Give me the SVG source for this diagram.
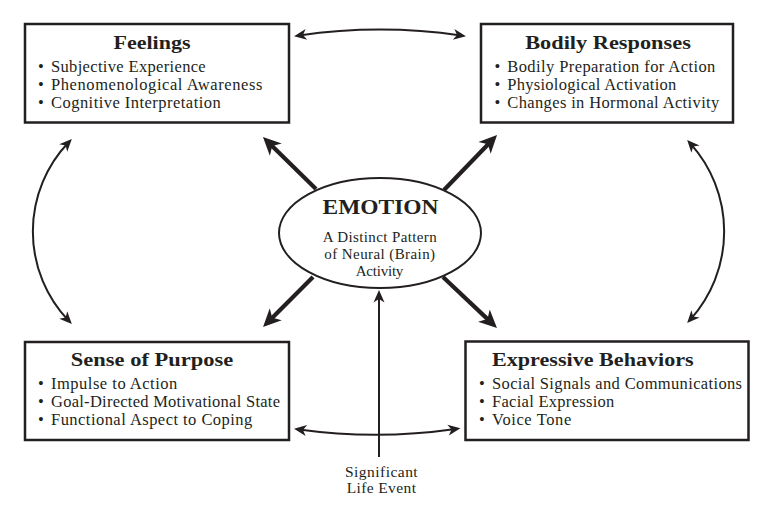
<svg xmlns="http://www.w3.org/2000/svg" width="782" height="506" viewBox="0 0 782 506">
<style>
.box{fill:#fff;stroke:#231f20;stroke-width:2.5}
.ell{fill:#fff;stroke:#231f20;stroke-width:2}
.t{font-family:"Liberation Serif","Times New Roman",serif;fill:#231f20}
.title{font-size:19px;font-weight:bold}
.item{font-size:16.5px}
.emo{font-size:22px;font-weight:bold}
.sub{font-size:15px}
.thick{fill:none;stroke:#231f20;stroke-width:4.2}
.thin{fill:none;stroke:#231f20;stroke-width:2}
</style>
<defs>
<marker id="bigHead" markerUnits="userSpaceOnUse" viewBox="-20 -10 22 20" markerWidth="22" markerHeight="20" refX="-10" refY="0" orient="auto">
<path d="M0,0 L-18,-8.5 L-13,0 L-18,8.5 Z" fill="#231f20"/>
</marker>
<marker id="smallHead" markerUnits="userSpaceOnUse" viewBox="-14 -7 16 14" markerWidth="16" markerHeight="14" refX="-5" refY="0" orient="auto-start-reverse">
<path d="M0,0 L-12.5,-5.5 L-9,0 L-12.5,5.5 Z" fill="#231f20"/>
</marker>
</defs>
<rect width="782" height="506" fill="#fff"/>
<g id="connectors">
<path class="thick" d="M316,189 L270.1,144" marker-end="url(#bigHead)"/>
<path class="thick" d="M444,190 L490.1,142.2" marker-end="url(#bigHead)"/>
<path class="thick" d="M313,277 L270.1,319.9" marker-end="url(#bigHead)"/>
<path class="thick" d="M443,277 L489.7,321.1" marker-end="url(#bigHead)"/>
<path class="thin" d="M379,457 L379,295" marker-end="url(#smallHead)"/>
<path class="thin" d="M299,35.5 A560,560 0 0 1 461,35.5" marker-start="url(#smallHead)" marker-end="url(#smallHead)"/>
<path class="thin" d="M299,429.5 A560,560 0 0 0 455.5,429" marker-start="url(#smallHead)" marker-end="url(#smallHead)"/>
<path class="thin" d="M68.4,142.5 A129.2,129.2 0 0 0 68.4,320.5" marker-start="url(#smallHead)" marker-end="url(#smallHead)"/>
<path class="thin" d="M690.5,143.6 A131.6,131.6 0 0 1 690.5,319.4" marker-start="url(#smallHead)" marker-end="url(#smallHead)"/>
</g>
<g id="feelings">
<rect class="box" x="25" y="24" width="264" height="98.5"/>
<text class="t title" x="152" y="49" text-anchor="middle" textLength="77" lengthAdjust="spacingAndGlyphs">Feelings</text>
<text class="t item" x="38" y="72">•</text>
<text class="t item" x="51" y="72" textLength="154.7">Subjective Experience</text>
<text class="t item" x="38" y="90">•</text>
<text class="t item" x="51" y="90" textLength="211.3">Phenomenological Awareness</text>
<text class="t item" x="38" y="107.5">•</text>
<text class="t item" x="51" y="107.5" textLength="169.7">Cognitive Interpretation</text>
</g>
<g id="bodily-responses">
<rect class="box" x="481" y="24" width="252" height="98.5"/>
<text class="t title" x="608" y="49" text-anchor="middle" textLength="165.7" lengthAdjust="spacingAndGlyphs">Bodily Responses</text>
<text class="t item" x="494.5" y="72">•</text>
<text class="t item" x="507.3" y="72" textLength="208">Bodily Preparation for Action</text>
<text class="t item" x="494.5" y="90">•</text>
<text class="t item" x="507.3" y="90" textLength="169">Physiological Activation</text>
<text class="t item" x="494.5" y="107.5">•</text>
<text class="t item" x="507.3" y="107.5" textLength="212">Changes in Hormonal Activity</text>
</g>
<g id="sense-of-purpose">
<rect class="box" x="25" y="342" width="264" height="98"/>
<text class="t title" x="152" y="366" text-anchor="middle" textLength="162.3" lengthAdjust="spacingAndGlyphs">Sense of Purpose</text>
<text class="t item" x="38" y="389.3">•</text>
<text class="t item" x="51" y="389.3" textLength="126.3">Impulse to Action</text>
<text class="t item" x="38" y="407.3">•</text>
<text class="t item" x="51" y="407.3" textLength="229">Goal-Directed Motivational State</text>
<text class="t item" x="38" y="425.3">•</text>
<text class="t item" x="51" y="425.3" textLength="201.3">Functional Aspect to Coping</text>
</g>
<g id="expressive-behaviors">
<rect class="box" x="465.5" y="341.5" width="283" height="98.5"/>
<text class="t title" x="492" y="366" textLength="201.7" lengthAdjust="spacingAndGlyphs">Expressive Behaviors</text>
<text class="t item" x="479" y="389.3">•</text>
<text class="t item" x="492" y="389.3" textLength="250">Social Signals and Communications</text>
<text class="t item" x="479" y="407.3">•</text>
<text class="t item" x="492" y="407.3" textLength="122.3">Facial Expression</text>
<text class="t item" x="479" y="425.3">•</text>
<text class="t item" x="492" y="425.3" textLength="79.3">Voice Tone</text>
</g>
<g id="emotion">
<ellipse class="ell" cx="380" cy="233" rx="101" ry="55"/>
<text class="t emo" x="380.5" y="214.3" text-anchor="middle" textLength="116" lengthAdjust="spacingAndGlyphs">EMOTION</text>
<text class="t sub" x="379.7" y="242.3" text-anchor="middle" textLength="114">A Distinct Pattern</text>
<text class="t sub" x="379.7" y="259" text-anchor="middle" textLength="110.7">of Neural (Brain)</text>
<text class="t sub" x="379.5" y="275.7" text-anchor="middle" textLength="47.7">Activity</text>
</g>
<g id="significant-life-event">
<text class="t sub" x="381.3" y="476.7" text-anchor="middle" textLength="72.7" style="font-size:15.5px">Significant</text>
<text class="t sub" x="381.3" y="493" text-anchor="middle" textLength="69.3" style="font-size:15.5px">Life Event</text>
</g>
</svg>
